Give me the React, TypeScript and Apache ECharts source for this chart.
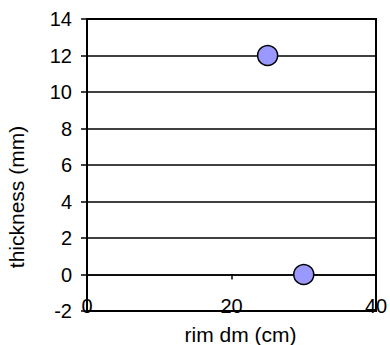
import React, { useEffect, useRef } from "react";
import * as echarts from "echarts";

const points: [number, number][] = [
  [25, 12],
  [30, 0],
];
const xName = "rim dm (cm)";
const yName = "thickness (mm)";
const xRange = { min: 0, max: 40, interval: 20 };
const yRange = { min: -2, max: 14, interval: 2 };

const FONT = "'Liberation Sans', Arial, sans-serif";

export default function App() {
  const ref = useRef<HTMLDivElement>(null);
  useEffect(() => {
    if (!ref.current) return;
    const chart = echarts.init(ref.current, null, { renderer: "svg" });
    chart.setOption({
      animation: false,
      backgroundColor: "#fff",
      grid: {
        left: 87,
        right: 14,
        top: 19,
        bottom: 34,
        containLabel: false,
        outerBoundsMode: "none",
        show: true,
        borderColor: "#000",
        borderWidth: 2,
        backgroundColor: "transparent",
      },
      xAxis: [
        {
          type: "value",
          ...xRange,
          position: "bottom",
          axisLine: { show: true, onZero: true, lineStyle: { color: "#000", width: 1.5 } },
          axisTick: { show: true, length: 5, inside: false, lineStyle: { color: "#000", width: 1.5 } },
          axisLabel: { show: false },
          splitLine: { show: false },
        },
        {
          type: "value",
          ...xRange,
          position: "bottom",
          axisLine: { show: false, onZero: false },
          axisTick: { show: false },
          splitLine: { show: false },
          axisLabel: {
            show: true,
            margin: -5,
            verticalAlign: "middle",
            color: "#000",
            fontSize: 20,
            fontFamily: FONT,
          },
          name: xName,
          nameLocation: "middle",
          nameGap: 13,
          nameTextStyle: { color: "#000", fontSize: 21, fontFamily: FONT, padding: [0, 0, 0, 18] },
        },
      ],
      yAxis: {
        type: "value",
        ...yRange,
        axisLine: { show: true, onZero: false, lineStyle: { color: "#000", width: 2 } },
        axisTick: { show: true, length: 6, lineStyle: { color: "#000", width: 1.5 } },
        axisLabel: { margin: 15, color: "#000", fontSize: 20, fontFamily: FONT },
        splitLine: { show: true, lineStyle: { color: "#000", width: 1.5 } },
        name: yName,
        nameLocation: "middle",
        nameRotate: 90,
        nameGap: 60,
        nameTextStyle: { color: "#000", fontSize: 21, fontFamily: FONT, padding: [0, 64, 0, 0] },
      },
      series: [
        {
          type: "scatter",
          xAxisIndex: 0,
          yAxisIndex: 0,
          data: points,
          symbol: "circle",
          symbolSize: 20,
          itemStyle: { color: "#9999FF", borderColor: "#000", borderWidth: 1.5, opacity: 1 },
          z: 5,
        },
      ],
    });
    return () => chart.dispose();
  }, []);
  return <div ref={ref} style={{ width: 390, height: 345, position: "absolute", left: 0, top: 0 }} />;
}
